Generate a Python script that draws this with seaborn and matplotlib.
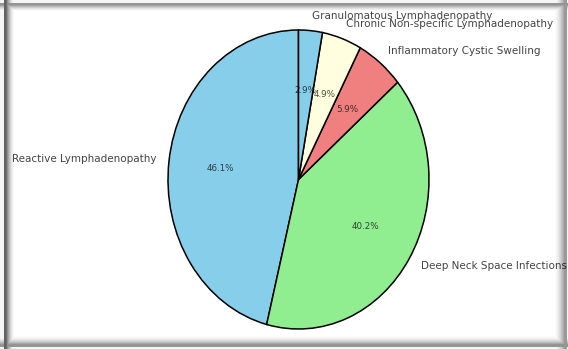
import numpy as np
import matplotlib
matplotlib.use("Agg")
import matplotlib.pyplot as plt
import seaborn as sns

# Neck swelling diagnoses (case counts)
categories = [
    "Reactive Lymphadenopathy",
    "Deep Neck Space Infections",
    "Inflammatory Cystic Swelling",
    "Chronic Non-specific Lymphadenopathy",
    "Granulomatous Lymphadenopathy",
]
counts = [47, 41, 6, 5, 3]
slice_colors = ["skyblue", "lightgreen", "lightcoral", "lightyellow"]

sns.set_style("white")
plt.rcParams["font.family"] = ["DejaVu Sans"]

W, H = 568, 349
fig = plt.figure(figsize=(W / 100, H / 100), dpi=100)
fig.patch.set_facecolor("white")

ax = fig.add_axes([0, 0, 1, 1])
palette = [slice_colors[i % len(slice_colors)] for i in range(len(counts))]
wedges, texts, autotexts = ax.pie(
    counts,
    labels=categories,
    colors=palette,
    autopct="%1.1f%%",
    startangle=90,
    wedgeprops={"edgecolor": "black", "linewidth": 1.1},
    textprops={"fontsize": 7.5, "color": "#444444"},
)
for t in autotexts:
    t.set_fontsize(6.3)
    t.set_color("black")
    t.set_alpha(0.7)

# stretch the pie into the frame (centre ~ (298.5, 179.5) px)
cx, cy, rx, ry = 298.5, 179.5, 130.5, 149.5
ax.set_aspect("auto")
ax.set_xlim(-cx / rx, (W - cx) / rx)
ax.set_ylim(-(H - cy) / ry, cy / ry)
ax.axis("off")

# inset drop-shadow border around the panel
xs = np.arange(W)[None, :].astype(float)
ys = np.arange(H)[:, None].astype(float)

def edge(d, peak_pos, peak, fade, outer=0.04):
    out = np.where(d < peak_pos - 1, outer, 0.0)
    core = (d >= peak_pos - 1) & (d <= peak_pos + 1)
    out = np.where(core, peak, out)
    tail = d > peak_pos + 1
    out = np.where(tail, peak * np.clip(1 - (d - peak_pos - 1) / fade, 0, 1) ** 1.8, out)
    return out

dark = np.maximum.reduce([
    np.broadcast_to(edge(xs, 4.5, 0.62, 9.0), (H, W)),
    np.broadcast_to(edge(ys, 3.5, 0.42, 7.0), (H, W)),
    np.broadcast_to(edge(W - 1 - xs, 2.0, 0.40, 11.0), (H, W)),
    np.broadcast_to(edge(H - 1 - ys, 3.0, 0.42, 9.0), (H, W)),
])
rgba = np.zeros((H, W, 4))
rgba[..., 3] = dark
shadow_ax = fig.add_axes([0, 0, 1, 1], zorder=10)
shadow_ax.imshow(rgba, aspect="auto", interpolation="nearest")
shadow_ax.axis("off")

fig.savefig("out.png", dpi=100, facecolor="white")
